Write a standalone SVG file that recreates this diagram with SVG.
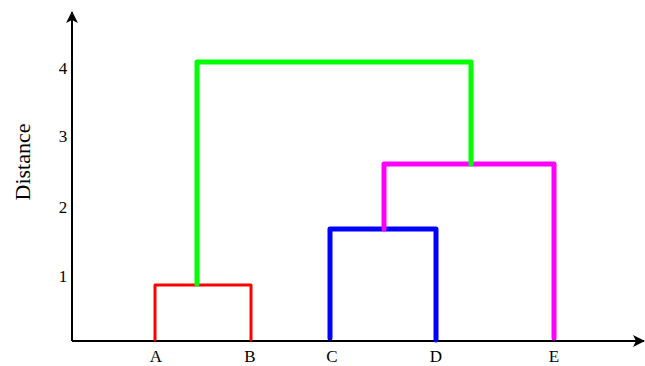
<svg xmlns="http://www.w3.org/2000/svg" width="645" height="366" viewBox="0 0 645 366">
<style>
.t{font-family:"Liberation Serif","Times New Roman",serif;font-size:17px;fill:#000}
.ax{stroke:#000;stroke-width:2;fill:none}
.l{fill:none;stroke-linejoin:round;stroke-linecap:round}
</style>
<defs>
<marker id="arr" viewBox="0 0 12 12" refX="11" refY="6" markerWidth="12" markerHeight="12" markerUnits="userSpaceOnUse" orient="auto">
<path d="M0,0 L12,6 L0,12 L3,6 Z" fill="#000"/>
</marker>
</defs>
<g id="axes">
<line class="ax" x1="72" y1="341" x2="72" y2="12" marker-end="url(#arr)"/>
<line class="ax" x1="72" y1="341" x2="644" y2="341" marker-end="url(#arr)"/>
<text class="t" x="63" y="74" text-anchor="middle">4</text>
<text class="t" x="63" y="142" text-anchor="middle">3</text>
<text class="t" x="63" y="213" text-anchor="middle">2</text>
<text class="t" x="63" y="282" text-anchor="middle">1</text>
<text class="t" transform="translate(30,162) rotate(-90)" text-anchor="middle" style="font-size:22px">Distance</text>
</g>
<g id="leaves">
<text class="t" x="156" y="362" text-anchor="middle">A</text>
<text class="t" x="250" y="362" text-anchor="middle">B</text>
<text class="t" x="332" y="362" text-anchor="middle">C</text>
<text class="t" x="436" y="362" text-anchor="middle">D</text>
<text class="t" x="554" y="362" text-anchor="middle">E</text>
</g>
<g id="connectors">
<path class="l" d="M155,340 V285 H251 V340" stroke="#ff0000" stroke-width="3" stroke-linecap="butt"/>
<path class="l" d="M330,338 V229 H436 V340" stroke="#0000ff" stroke-width="5"/>
<path class="l" d="M384,229 V164 H554 V338" stroke="#ff00ff" stroke-width="5"/>
<path class="l" d="M197,284 V62 H471 V164" stroke="#00ff00" stroke-width="5"/>
</g>
</svg>
